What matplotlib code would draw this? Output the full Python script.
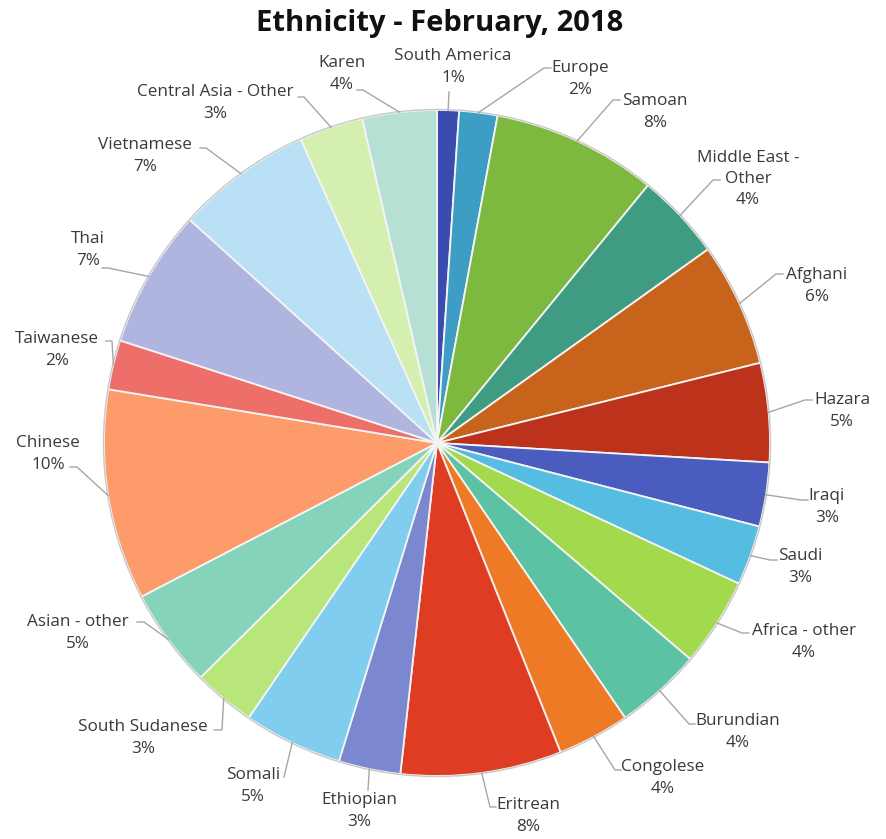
import matplotlib
matplotlib.use("Agg")
import numpy as np
import matplotlib.pyplot as plt

# slices, clockwise from 12 o'clock
groups = ["South America", "Europe", "Samoan", "Middle East -\nOther", "Afghani",
          "Hazara", "Iraqi", "Saudi", "Africa - other", "Burundian", "Congolese",
          "Eritrean", "Ethiopian", "Somali", "South Sudanese", "Asian - other",
          "Chinese", "Taiwanese", "Thai", "Vietnamese", "Central Asia - Other", "Karen"]
shares = [1.06, 1.85, 8.0, 4.2, 6.0, 4.8, 3.1, 2.9, 4.3, 4.2, 3.5, 7.8, 3.0, 4.8,
          3.0, 4.8, 10.2, 2.4, 6.7, 6.6, 3.1, 3.6]
pct_labels = ["1%", "2%", "8%", "4%", "6%", "5%", "3%", "3%", "4%", "4%", "4%", "8%",
              "3%", "5%", "3%", "5%", "10%", "2%", "7%", "7%", "3%", "4%"]

colors = ["#3b4cae", "#3d9dc4", "#7db83f", "#3f9b82", "#c8631b", "#bd321b", "#4a5dbf",
          "#56bde2", "#a3d94c", "#5bc3a3", "#ee7a25", "#df3d23", "#7b88cf", "#80cdf0",
          "#b9e67b", "#86d3bc", "#fd9b6b", "#ee6e69", "#b0b5df", "#b9e0f5", "#d5efb1",
          "#b7e0d4"]

# label layout in pixels (y down): text centre, leader end, stub length
label_pos = [(453, 67, 449, 92, 0), (580, 79, 551, 68, -7), (655, 112, 620, 100, -7),
             (748, 179, 720, 180, -7), (817, 286, 783, 274, -7), (842, 411, 812, 400, -7),
             (827, 507, 808, 500, -7), (800, 567, 777, 560, -7), (804, 642, 749, 633, -7),
             (738, 732, 695, 724, -6), (663, 778, 621, 770, -6), (528, 816, 496, 807, -6),
             (359, 811, 368, 790, 0), (253, 786, 284, 777, 0), (143, 738, 214, 730, 8),
             (78, 633, 137, 622, 7), (48, 454, 70, 467, 7), (57, 350, 106, 341, 6),
             (88, 250, 102, 268, 6), (145, 156, 200, 148, 6), (215, 103, 298, 97, 6),
             (342, 74, 357, 90, 6)]

W, H = 887, 839
cx, cy, R = 437, H - 443, 333

plt.rcParams["font.family"] = ["Open Sans", "DejaVu Sans"]
fig = plt.figure(figsize=(W / 100, H / 100), dpi=100)
ax = fig.add_axes([0, 0, 1, 1])

wedges, _ = ax.pie(shares, colors=colors, startangle=90, counterclock=False,
                   center=(cx, cy), radius=R,
                   wedgeprops=dict(edgecolor="#f4f4f4", linewidth=1.3))
ax.add_patch(plt.Circle((cx, cy), R + 0.5, fill=False, edgecolor="#c9c9c9", lw=1))

ax.set_xlim(0, W)
ax.set_ylim(0, H)
ax.set_aspect("auto")
ax.axis("off")

txt = "#3a3a3a"
line_c = "#a6a6a6"
for w, name, pct, (tx, ty, ex, ey, stub) in zip(wedges, groups, pct_labels, label_pos):
    mid = np.deg2rad((w.theta1 + w.theta2) / 2)
    rx, ry = cx + R * np.cos(mid), cy + R * np.sin(mid)
    kx = ex + stub
    ax.plot([rx, kx, ex], [ry, H - ey, H - ey], color=line_c, lw=1)
    ax.text(tx, H - ty, name + "\n" + pct, ha="center", va="center",
            fontsize=12.3, color=txt, linespacing=1.42, multialignment="center")

fig.text(440 / W, 1 - 24 / H, "Ethnicity - February, 2018", ha="center", va="center",
         fontsize=21, fontweight="bold", color="#111111")

fig.savefig("out.png", dpi=100, facecolor="white")
